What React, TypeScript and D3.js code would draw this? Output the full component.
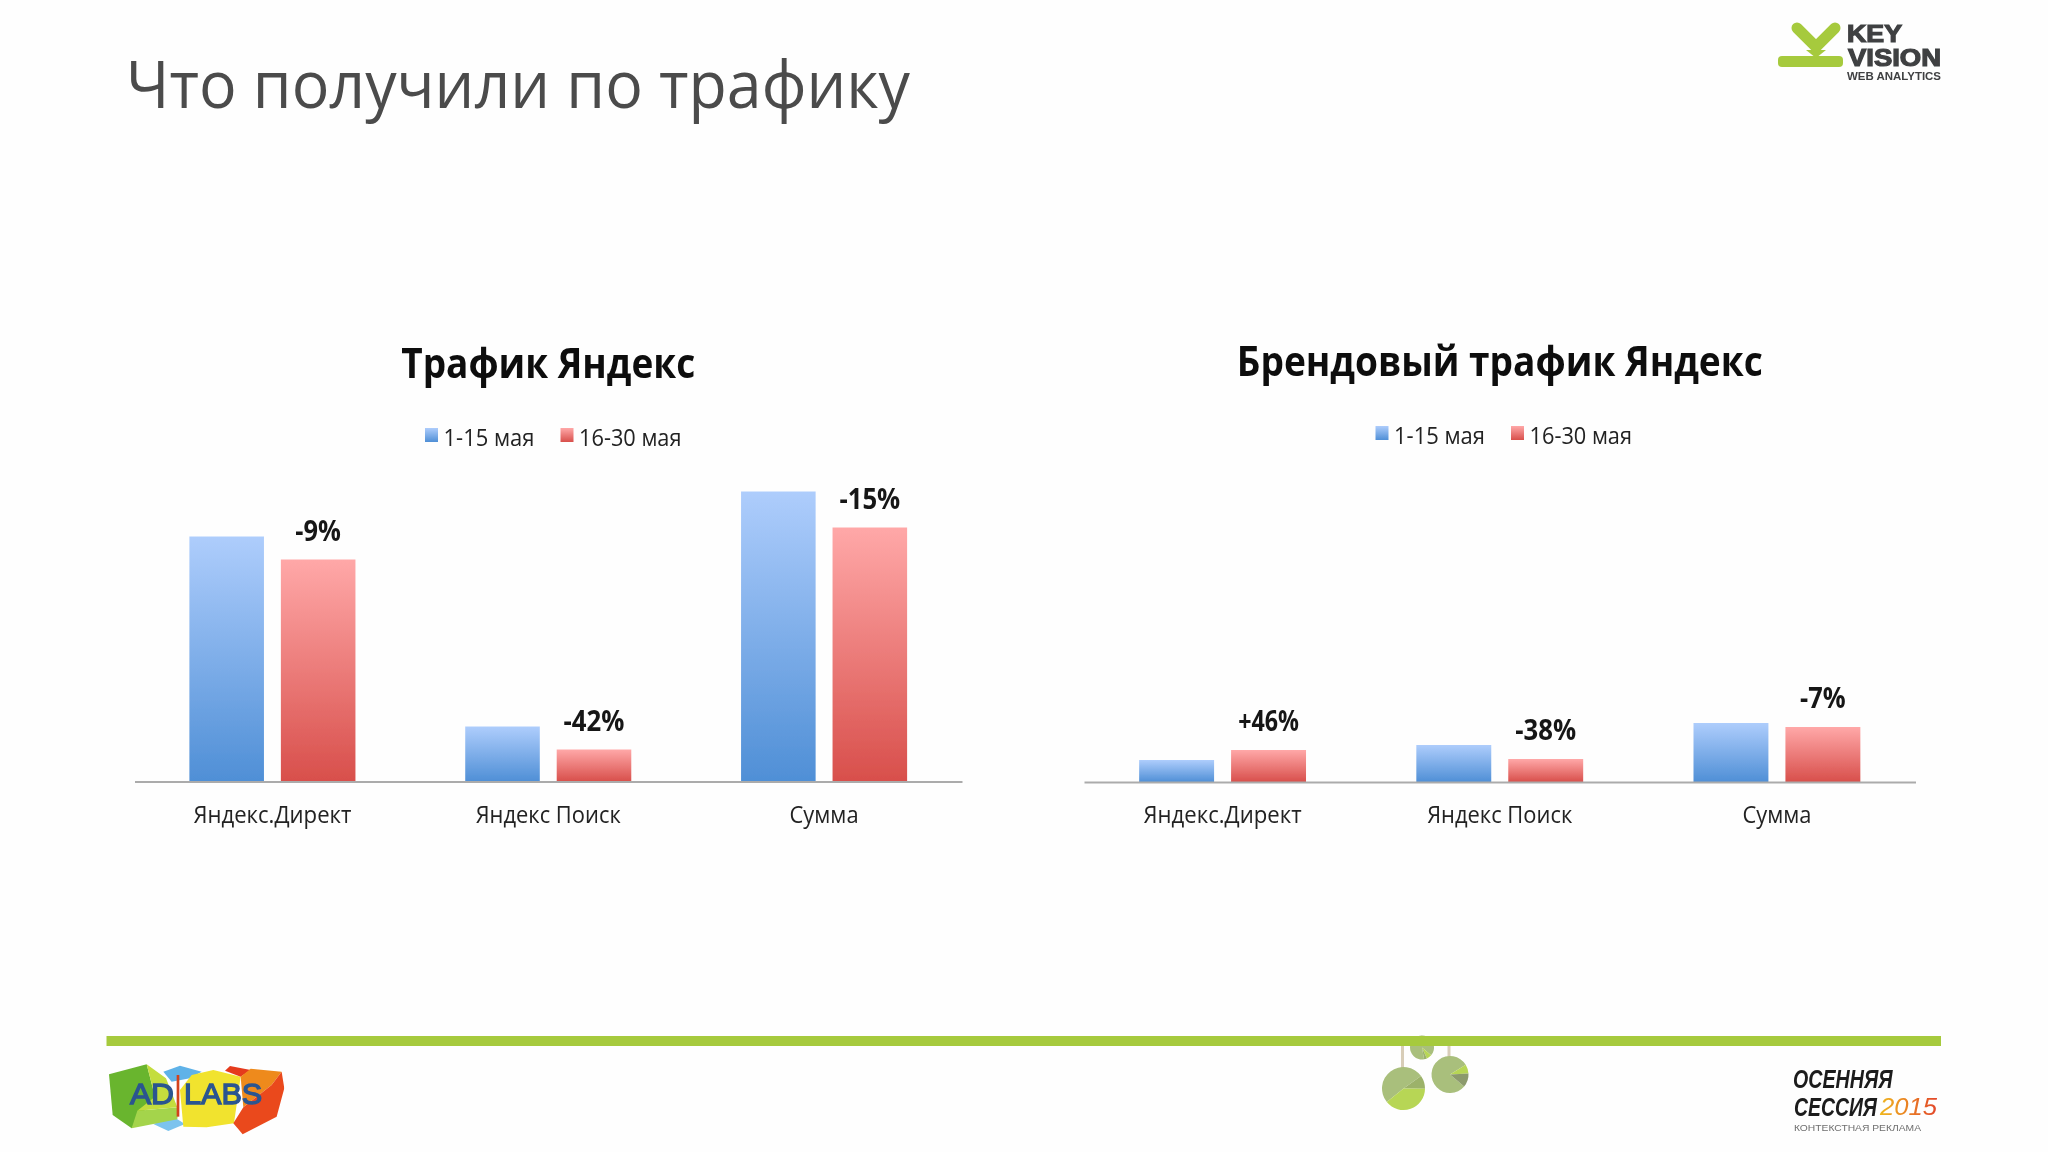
import { useEffect, useRef } from "react";
import * as d3 from "d3";

const categories = ["Яндекс.Директ", "Яндекс Поиск", "Сумма"];
const seriesNames = ["1-15 мая", "16-30 мая"];

// bar heights, no axis in the original so units are arbitrary
const totalFirst = [245, 55, 290];
const totalSecond = [222, 32, 254];
const totalLabels = ["-9%", "-42%", "-15%"];

const brandFirst = [22, 37, 59];
const brandSecond = [32, 23, 55];
const brandLabels = ["+46%", "-38%", "-7%"];

const bigPie = [51, 10, 39];
const midPie = [80, 8, 12];
const smallPie = [89, 7, 4];

const BODY = "'Open Sans', 'Noto Sans', sans-serif";
const LOGO = "'Liberation Sans', Arimo, sans-serif";
const NARROW = "'Liberation Sans Narrow', 'Liberation Sans', sans-serif";

type ChartSpec = {
  title: string;
  titleY: number;
  titleWidth: number;
  first: number[];
  second: number[];
  labels: string[];
  left: number;
  right: number;
  base: number;
  legendX: number;
  legendY: number;
};

const charts: ChartSpec[] = [
  {
    title: "Трафик Яндекс",
    titleY: 378,
    titleWidth: 294,
    first: totalFirst,
    second: totalSecond,
    labels: totalLabels,
    left: 134.5,
    right: 962,
    base: 781.5,
    legendX: 425,
    legendY: 446,
  },
  {
    title: "Брендовый трафик Яндекс",
    titleY: 376,
    titleWidth: 526,
    first: brandFirst,
    second: brandSecond,
    labels: brandLabels,
    left: 1084,
    right: 1915.5,
    base: 782,
    legendX: 1375.5,
    legendY: 444,
  },
];

function addGradient(defs: any, id: string, stops: [string, string]) {
  const grad = defs.append("linearGradient").attr("id", id).attr("x1", 0).attr("y1", 0).attr("x2", 0).attr("y2", 1);
  grad.append("stop").attr("offset", "0%").attr("stop-color", stops[0]);
  grad.append("stop").attr("offset", "100%").attr("stop-color", stops[1]);
}

function drawChart(svg: any, spec: ChartSpec) {
  const root = svg.append("g").attr("filter", "url(#soft)");
  const x = d3.scaleBand<string>().domain(categories).range([spec.left, spec.right]);
  const inner = d3
    .scaleBand<number>()
    .domain([0, 1])
    .range([0, x.bandwidth()])
    .paddingInner(0.185)
    .paddingOuter(0.6);
  const y = d3.scaleLinear().domain([0, 300]).range([spec.base, spec.base - 300]);
  const fills = ["url(#blueBar)", "url(#redBar)"];

  [spec.first, spec.second].forEach((values, series) => {
    root
      .append("g")
      .selectAll("rect")
      .data(values)
      .enter()
      .append("rect")
      .attr("x", (_: number, i: number) => (x(categories[i]) ?? 0) + (inner(series) ?? 0))
      .attr("y", (d: number) => y(d))
      .attr("width", inner.bandwidth())
      .attr("height", (d: number) => y(0) - y(d))
      .attr("fill", fills[series]);
  });

  // change labels sit above the second bar of each group
  root
    .append("g")
    .selectAll("text")
    .data(spec.labels)
    .enter()
    .append("text")
    .attr("x", (_: string, i: number) => (x(categories[i]) ?? 0) + (inner(1) ?? 0) + inner.bandwidth() / 2)
    .attr("y", (_: string, i: number) => y(spec.second[i]) - 19)
    .attr("text-anchor", "middle")
    .attr("font-family", BODY)
    .attr("font-weight", 700)
    .attr("font-size", 28)
    .attr("textLength", (d: string) => d.length * 15.2)
    .attr("lengthAdjust", "spacingAndGlyphs")
    .attr("fill", "#151515")
    .text((d: string) => d);

  const axis = root
    .append("g")
    .attr("transform", `translate(0,${spec.base})`)
    .call(d3.axisBottom(x).tickSize(0).tickPadding(25));
  axis.select(".domain").attr("stroke", "#ababab").attr("stroke-width", 2);
  axis
    .selectAll("text")
    .attr("font-family", BODY)
    .attr("font-size", 23)
    .attr("fill", "#222222")
    .attr("textLength", (d: string) => (d === "Сумма" ? 69 : d === "Яндекс Поиск" ? 145 : 158))
    .attr("lengthAdjust", "spacingAndGlyphs");

  root
    .append("text")
    .attr("x", (spec.left + spec.right) / 2)
    .attr("y", spec.titleY)
    .attr("text-anchor", "middle")
    .attr("font-family", BODY)
    .attr("font-weight", 700)
    .attr("font-size", 41)
    .attr("textLength", spec.titleWidth)
    .attr("lengthAdjust", "spacingAndGlyphs")
    .attr("fill", "#111111")
    .text(spec.title);

  const legendOffsets = [0, 135.5];
  const legendWidths = [91, 102.5];
  seriesNames.forEach((name, i) => {
    const lx = spec.legendX + legendOffsets[i];
    root
      .append("rect")
      .attr("x", lx)
      .attr("y", spec.legendY - 18)
      .attr("width", 13)
      .attr("height", 14)
      .attr("fill", fills[i]);
    root
      .append("text")
      .attr("x", lx + 18.5)
      .attr("y", spec.legendY)
      .attr("font-family", BODY)
      .attr("font-size", 23)
      .attr("textLength", legendWidths[i])
      .attr("lengthAdjust", "spacingAndGlyphs")
      .attr("fill", "#222222")
      .text(name);
  });
}

function drawPie(root: any, values: number[], cx: number, cy: number, r: number, start: number, colors: string[]) {
  const pie = d3.pie<number>().sort(null).startAngle(start).endAngle(start + Math.PI * 2);
  const arc = d3.arc<d3.PieArcDatum<number>>().innerRadius(0).outerRadius(r);
  root
    .append("g")
    .attr("transform", `translate(${cx},${cy})`)
    .selectAll("path")
    .data(pie(values))
    .enter()
    .append("path")
    .attr("d", arc)
    .attr("fill", (_: unknown, i: number) => colors[i]);
}

function drawDecor(svg: any) {
  const decor = svg.append("g").attr("filter", "url(#soft)");

  decor
    .append("text")
    .attr("x", 126)
    .attr("y", 108)
    .attr("font-family", BODY)
    .attr("font-size", 66)
    .attr("textLength", 784)
    .attr("lengthAdjust", "spacingAndGlyphs")
    .attr("fill", "#4b4b4b")
    .text("Что получили по трафику");

  // strings and pies hang under the footer bar
  decor.append("rect").attr("x", 1401).attr("y", 1045).attr("width", 3).attr("height", 24).attr("fill", "#d8cdb8");
  decor.append("rect").attr("x", 1447.5).attr("y", 1045).attr("width", 3).attr("height", 12).attr("fill", "#d8cdb8");
  drawPie(decor, bigPie, 1403.5, 1088.5, 21.5, 4.03, ["#a9bf7c", "#9cb26b", "#b7d654"]);
  drawPie(decor, midPie, 1450, 1074.5, 18.5, 2.27, ["#a9bf7c", "#b7d654", "#8c9a6c"]);
  drawPie(decor, smallPie, 1422, 1047.5, 12, 2.97, ["#a9bf7c", "#b7d654", "#9cb26b"]);
  decor.append("rect").attr("x", 106.5).attr("y", 1036).attr("width", 1834.5).attr("height", 10).attr("fill", "#a6ca3c");

  // Key Vision logo
  decor
    .append("path")
    .attr("d", "M1797 28 L1816 47 L1835 28")
    .attr("fill", "none")
    .attr("stroke", "#a6ca3c")
    .attr("stroke-width", 11)
    .attr("stroke-linecap", "round");
  decor.append("rect").attr("x", 1778).attr("y", 56).attr("width", 65).attr("height", 11).attr("rx", 4).attr("fill", "#a6ca3c");
  decor.append("path").attr("d", "M1806 50 L1826 50 L1816 58 Z").attr("fill", "#a6ca3c");
  [
    { text: "KEY", x: 1847, y: 42, size: 24, w: 55 },
    { text: "VISION", x: 1848, y: 66, size: 24, w: 93 },
    { text: "WEB ANALYTICS", x: 1847, y: 80, size: 10, w: 94 },
  ].forEach((t) => {
    decor
      .append("text")
      .attr("x", t.x)
      .attr("y", t.y)
      .attr("font-family", LOGO)
      .attr("font-weight", 700)
      .attr("font-size", t.size)
      .attr("textLength", t.w)
      .attr("lengthAdjust", "spacingAndGlyphs")
      .attr("fill", "#3f4042")
      .attr("stroke", "#3f4042")
      .attr("stroke-width", t.size > 20 ? 1.2 : 0)
      .text(t.text);
  });

  // AdLabs logo, points measured in the 3x crop
  const adlabs = decor.append("g").attr("transform", "translate(90,1020) scale(0.3333)");
  const shards: [string, string][] = [
    ["220,155 270,137 335,155 300,175 245,185", "#5fb2e8"],
    ["190,312 235,333 285,312 250,290", "#7cc3ee"],
    ["57,163 170,133 195,230 125,325 68,285", "#69b52f"],
    ["125,325 142,272 265,262 262,298 190,312", "#a4d44b"],
    ["170,133 228,175 262,262 142,272 195,230", "#c4dd3d"],
    ["270,210 305,165 370,150 452,170 432,310 350,322 280,320", "#f1e32d"],
    ["405,152 420,138 482,150 452,170", "#e53a1e"],
    ["452,170 482,146 575,155 545,195 460,262", "#ee8a1c"],
    ["575,155 583,205 560,290 458,343 430,310 460,262 545,195", "#ea4a1e"],
  ];
  adlabs
    .selectAll("polygon")
    .data(shards)
    .enter()
    .append("polygon")
    .attr("points", (d: [string, string]) => d[0])
    .attr("fill", (d: [string, string]) => d[1]);
  adlabs.append("rect").attr("x", 260).attr("y", 165).attr("width", 8).attr("height", 125).attr("fill", "#d3421f");
  [
    { text: "AD", x: 120, w: 132 },
    { text: "LABS", x: 282, w: 235 },
  ].forEach((t) => {
    adlabs
      .append("text")
      .attr("x", t.x)
      .attr("y", 252)
      .attr("font-family", LOGO)
      .attr("font-size", 90)
      .attr("textLength", t.w)
      .attr("lengthAdjust", "spacingAndGlyphs")
      .attr("fill", "#2b5590")
      .attr("stroke", "#2b5590")
      .attr("stroke-width", 4)
      .text(t.text);
  });

  // session mark
  [
    { text: "ОСЕННЯЯ", x: 1793, y: 1088, w: 99.5 },
    { text: "СЕССИЯ", x: 1794, y: 1115.5, w: 83 },
  ].forEach((t) => {
    decor
      .append("text")
      .attr("x", t.x)
      .attr("y", t.y)
      .attr("font-family", NARROW)
      .attr("font-style", "italic")
      .attr("font-weight", 700)
      .attr("font-size", 25)
      .attr("textLength", t.w)
      .attr("lengthAdjust", "spacingAndGlyphs")
      .attr("fill", "#1c1c1c")
      .text(t.text);
  });
  decor
    .append("text")
    .attr("x", 1880)
    .attr("y", 1114.5)
    .attr("font-family", NARROW)
    .attr("font-style", "italic")
    .attr("font-size", 24)
    .attr("textLength", 57)
    .attr("lengthAdjust", "spacingAndGlyphs")
    .attr("fill", "url(#year)")
    .text("2015");
  decor
    .append("text")
    .attr("x", 1794)
    .attr("y", 1131)
    .attr("font-family", LOGO)
    .attr("font-size", 9.5)
    .attr("textLength", 127)
    .attr("lengthAdjust", "spacingAndGlyphs")
    .attr("fill", "#6f6f6f")
    .text("КОНТЕКСТНАЯ РЕКЛАМА");
}

export default function App() {
  const svgRef = useRef<SVGSVGElement | null>(null);

  useEffect(() => {
    if (!svgRef.current) {
      return;
    }
    const svg = d3.select(svgRef.current);
    svg.selectAll("*").remove();

    const defs = svg.append("defs");
    addGradient(defs, "blueBar", ["#aecdfc", "#4f8fd6"]);
    addGradient(defs, "redBar", ["#ffa8a8", "#d84f4b"]);
    defs
      .append("filter")
      .attr("id", "soft")
      .attr("x", "-5%")
      .attr("y", "-5%")
      .attr("width", "110%")
      .attr("height", "110%")
      .append("feGaussianBlur")
      .attr("stdDeviation", 0.65);
    const year = defs.append("linearGradient").attr("id", "year");
    year.append("stop").attr("offset", "0%").attr("stop-color", "#f0b91e");
    year.append("stop").attr("offset", "100%").attr("stop-color", "#e2452a");

    svg.append("rect").attr("width", 2048).attr("height", 1152).attr("fill", "#fefefe");
    drawDecor(svg);
    charts.forEach((spec) => drawChart(svg, spec));
  }, []);

  return (
    <svg
      ref={svgRef}
      width={2048}
      height={1152}
      viewBox="0 0 2048 1152"
      style={{ position: "absolute", left: 0, top: 0, display: "block" }}
    />
  );
}
